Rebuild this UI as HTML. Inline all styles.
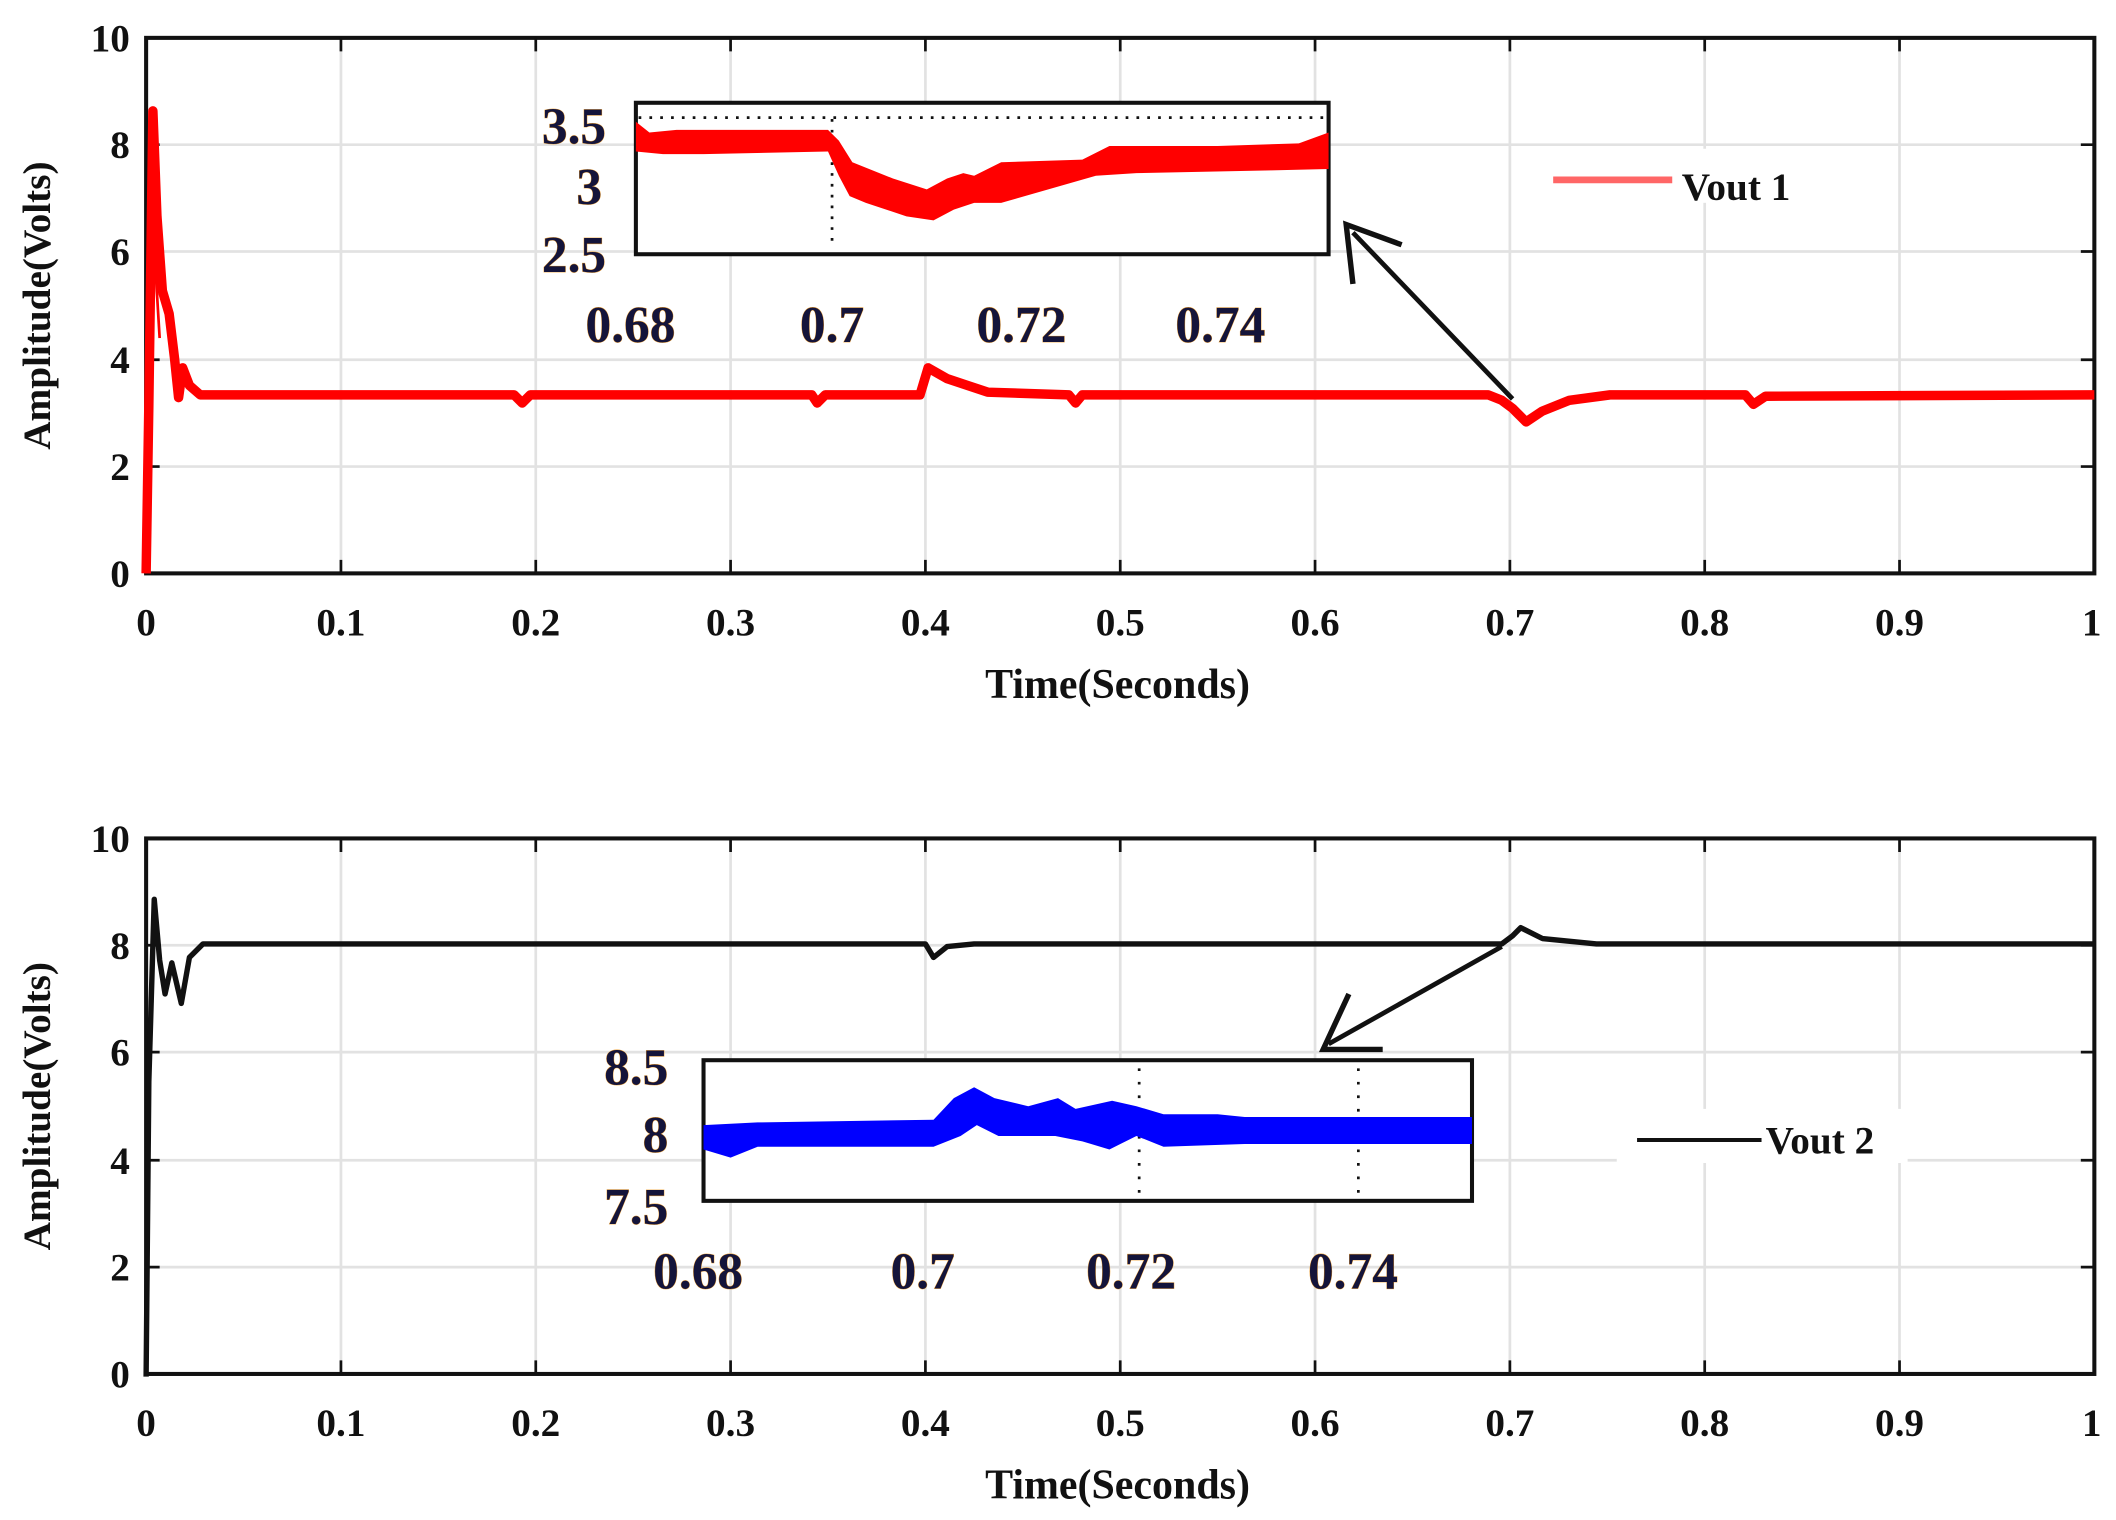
<!DOCTYPE html>
<html><head><meta charset="utf-8"><style>
html,body{margin:0;padding:0;background:#fff;}
svg{display:block;}
text{font-family:"Liberation Serif",serif;font-weight:bold;fill:#111;}
.tk{font-size:29px;}
.in{font-size:38px;fill:#14143a;stroke:#f0a030;stroke-width:0.6px;paint-order:stroke;}
</style></head><body>
<svg width="2116" height="1520" viewBox="0 0 1564 1124" preserveAspectRatio="none" xmlns="http://www.w3.org/2000/svg">
<rect width="1564" height="1124" fill="#fff"/>
<defs>
<g id="grid">
 <g stroke="#e2e2e2" stroke-width="2">
  <line x1="252" y1="0" x2="252" y2="396"/><line x1="396" y1="0" x2="396" y2="396"/>
  <line x1="540" y1="0" x2="540" y2="396"/><line x1="684" y1="0" x2="684" y2="396"/>
  <line x1="828" y1="0" x2="828" y2="396"/><line x1="972" y1="0" x2="972" y2="396"/>
  <line x1="1116" y1="0" x2="1116" y2="396"/><line x1="1260" y1="0" x2="1260" y2="396"/>
  <line x1="1404" y1="0" x2="1404" y2="396"/>
  <line x1="108" y1="79" x2="1548" y2="79"/><line x1="108" y1="158" x2="1548" y2="158"/>
  <line x1="108" y1="238" x2="1548" y2="238"/><line x1="108" y1="317" x2="1548" y2="317"/>
 </g>
 <rect x="108" y="0" width="1440" height="396" fill="none" stroke="#111" stroke-width="3"/>
 <g stroke="#111" stroke-width="2">
  <path d="M252 0v10M396 0v10M540 0v10M684 0v10M828 0v10M972 0v10M1116 0v10M1260 0v10M1404 0v10"/>
  <path d="M252 396v-10M396 396v-10M540 396v-10M684 396v-10M828 396v-10M972 396v-10M1116 396v-10M1260 396v-10M1404 396v-10"/>
  <path d="M108 79h10M108 158h10M108 238h10M108 317h10M1548 79h-10M1548 158h-10M1548 238h-10M1548 317h-10"/>
 </g>
 <g class="tk" text-anchor="end">
  <text x="96" y="10" class="tk">10</text><text x="96" y="89" class="tk">8</text>
  <text x="96" y="168" class="tk">6</text><text x="96" y="248" class="tk">4</text>
  <text x="96" y="327" class="tk">2</text><text x="96" y="406" class="tk">0</text>
 </g>
 <g text-anchor="middle">
  <text x="108" y="442" class="tk">0</text><text x="252" y="442" class="tk">0.1</text>
  <text x="396" y="442" class="tk">0.2</text><text x="540" y="442" class="tk">0.3</text>
  <text x="684" y="442" class="tk">0.4</text><text x="828" y="442" class="tk">0.5</text>
  <text x="972" y="442" class="tk">0.6</text><text x="1116" y="442" class="tk">0.7</text>
  <text x="1260" y="442" class="tk">0.8</text><text x="1404" y="442" class="tk">0.9</text>
  <text x="1546" y="442" class="tk">1</text>
  <text x="826" y="488" style="font-size:31px">Time(Seconds)</text>
 </g>
 <text transform="translate(37,198) rotate(-90)" text-anchor="middle" style="font-size:29px">Amplitude(Volts)</text>
</g>
</defs>

<!-- TOP -->
<g transform="translate(0,28)"><use href="#grid"/></g>
<polyline fill="none" stroke="#f00" stroke-width="7" stroke-linejoin="round" points="108,424 110,300 113,82 116,160 120,215 125,232 129,265 132,294 135,272 140,285 148,292 380,292 386,298 392,292 600,292 604,298 610,292 680,292 686,272 700,280 730,290 790,292 795,298 800,292 1100,292 1110,296 1118,302 1128,312 1140,304 1160,296 1190,292 1290,292 1296,299 1305,293 1548,292"/>
<polyline fill="none" stroke="#f00" stroke-width="2" points="108,424 109,300 111,150 113,80 115,200 118,250"/>
<!-- inset 1 -->
<rect x="470" y="76" width="512" height="112" fill="#fff" stroke="#111" stroke-width="3"/>
<line x1="472" y1="87" x2="980" y2="87" stroke="#111" stroke-width="2" stroke-dasharray="2,6"/>
<line x1="615" y1="88" x2="615" y2="178" stroke="#111" stroke-width="2" stroke-dasharray="2,6"/>
<polygon fill="#f00" points="470,90 480,98 500,96 612,96 620,104 630,120 660,132 685,140 700,132 712,128 720,130 740,120 800,118 820,108 900,108 960,106 982,98 982,125 940,126 840,128 810,130 740,150 720,150 705,155 690,163 670,160 640,150 628,145 620,130 612,112 520,114 490,114 470,112"/>
<text x="448" y="106" text-anchor="end" class="in">3.5</text>
<text x="445" y="151" text-anchor="end" class="in">3</text>
<text x="448" y="201" text-anchor="end" class="in">2.5</text>
<text x="466" y="253" text-anchor="middle" class="in">0.68</text>
<text x="615" y="253" text-anchor="middle" class="in">0.7</text>
<text x="755" y="253" text-anchor="middle" class="in">0.72</text>
<text x="902" y="253" text-anchor="middle" class="in">0.74</text>
<line x1="1118" y1="295" x2="1000" y2="172" stroke="#111" stroke-width="3.5"/>
<polyline points="1036,181 995,166 1000,210" fill="none" stroke="#111" stroke-width="4"/>
<rect x="1138" y="110" width="210" height="40" fill="#fff"/>
<line x1="1148" y1="133" x2="1236" y2="133" stroke="#f66" stroke-width="5"/>
<text x="1243" y="148" style="font-size:29px">Vout 1</text>

<!-- BOTTOM -->
<g transform="translate(0,620)"><use href="#grid"/></g>
<polyline fill="none" stroke="#111" stroke-width="4" stroke-linejoin="round" points="108,1018 110,800 114,665 118,710 122,735 127,712 134,742 140,708 150,698 684,698 690,708 700,700 720,698 1110,698 1118,692 1124,686 1140,694 1180,698 1548,698"/>
<!-- inset 2 -->
<rect x="520" y="784" width="568" height="104" fill="#fff" stroke="#111" stroke-width="3"/>
<line x1="842" y1="790" x2="842" y2="885" stroke="#111" stroke-width="2" stroke-dasharray="2,8"/>
<line x1="1004" y1="790" x2="1004" y2="885" stroke="#111" stroke-width="2" stroke-dasharray="2,8"/>
<polygon fill="#00f" points="520,832 560,830 690,828 705,812 720,804 735,812 760,818 782,812 795,820 822,814 840,818 860,824 900,824 920,826 1088,826 1088,846 920,846 860,848 840,840 820,850 800,844 780,840 760,840 738,840 722,832 710,840 690,848 560,848 540,856 520,850"/>
<text x="494" y="802" text-anchor="end" class="in">8.5</text>
<text x="494" y="852" text-anchor="end" class="in">8</text>
<text x="494" y="905" text-anchor="end" class="in">7.5</text>
<text x="516" y="953" text-anchor="middle" class="in">0.68</text>
<text x="682" y="953" text-anchor="middle" class="in">0.7</text>
<text x="836" y="953" text-anchor="middle" class="in">0.72</text>
<text x="1000" y="953" text-anchor="middle" class="in">0.74</text>
<line x1="1110" y1="700" x2="982" y2="772" stroke="#111" stroke-width="3.5"/>
<polyline points="997,735 978,776 1022,776" fill="none" stroke="#111" stroke-width="4"/>
<rect x="1195" y="820" width="215" height="40" fill="#fff"/>
<line x1="1210" y1="843" x2="1302" y2="843" stroke="#111" stroke-width="3"/>
<text x="1305" y="853" style="font-size:29px">Vout 2</text>
</svg>
</body></html>
